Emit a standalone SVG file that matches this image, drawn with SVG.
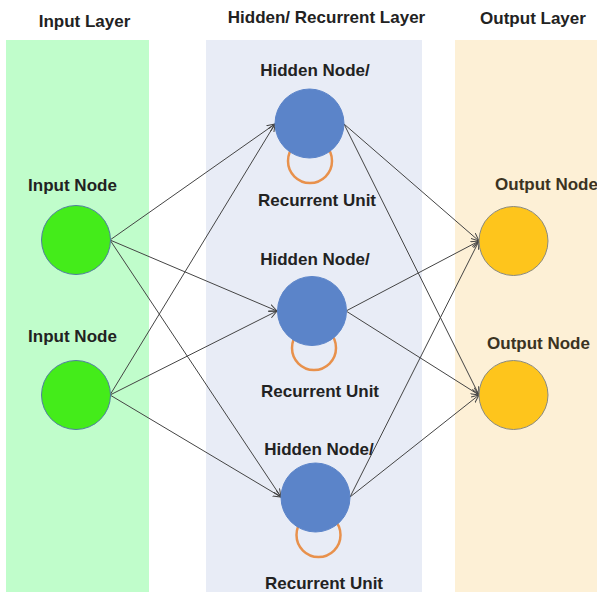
<svg xmlns="http://www.w3.org/2000/svg" width="597" height="592" viewBox="0 0 597 592">
<defs>
<style>
text{font-family:"Liberation Sans",Arial,sans-serif;font-weight:bold;font-size:17px;text-anchor:middle;fill:#222}
.edge{stroke:#444;stroke-width:1;fill:none;marker-end:url(#arr)}
.in{fill:#44ec1a;stroke:#4f7f9f;stroke-width:1}
.hid{fill:#5b84c9;stroke:#5b84c9;stroke-width:1}
.out{fill:#fec51c;stroke:#8a8a80;stroke-width:1}
.loop{fill:none;stroke:#e8914c;stroke-width:2.5}
</style>
<marker id="arr" markerWidth="10" markerHeight="8" refX="8" refY="4" orient="auto" markerUnits="userSpaceOnUse">
<path d="M0,0.5 L8,4 L0,7.5" fill="none" stroke="#444" stroke-width="1"/>
</marker>
</defs>
<rect width="597" height="592" fill="#fff"/>
<g id="panels">
<rect x="6" y="40" width="143" height="552" fill="#c0fdcb"/>
<rect x="206" y="40" width="216" height="552" fill="#e8ecf6"/>
<rect x="455" y="40" width="142" height="552" fill="#fdf0d6"/>
</g>
<g id="titles">
<text x="84.5" y="27">Input Layer</text>
<text x="326.5" y="23">Hidden/ Recurrent Layer</text>
<text x="533" y="24">Output Layer</text>
</g>
<g id="connectors">
<line class="edge" x1="110" y1="240" x2="275" y2="124"/>
<line class="edge" x1="110" y1="240" x2="277" y2="311"/>
<line class="edge" x1="110" y1="240" x2="281" y2="497"/>
<line class="edge" x1="110" y1="395" x2="275" y2="124"/>
<line class="edge" x1="110" y1="395" x2="277" y2="311"/>
<line class="edge" x1="110" y1="395" x2="281" y2="497"/>
<line class="edge" x1="344" y1="124" x2="479" y2="241"/>
<line class="edge" x1="344" y1="124" x2="479" y2="395"/>
<line class="edge" x1="346" y1="311" x2="479" y2="241"/>
<line class="edge" x1="346" y1="311" x2="479" y2="395"/>
<line class="edge" x1="350" y1="497" x2="479" y2="241"/>
<line class="edge" x1="350" y1="497" x2="479" y2="395"/>
</g>
<g id="input1">
<text x="72.5" y="191">Input Node</text>
<circle class="in" cx="76" cy="240" r="34.5"/>
</g>
<g id="input2">
<text x="72.5" y="342">Input Node</text>
<circle class="in" cx="76" cy="395" r="34.5"/>
</g>
<g id="hidden1">
<text x="315" y="76">Hidden Node/</text>
<circle class="loop" cx="310" cy="161" r="22"/>
<circle class="hid" cx="309.5" cy="123.5" r="34.5"/>
<text x="317" y="206">Recurrent Unit</text>
</g>
<g id="hidden2">
<text x="315" y="265">Hidden Node/</text>
<circle class="loop" cx="314" cy="348" r="22"/>
<circle class="hid" cx="312" cy="311" r="34.5"/>
<text x="320" y="397">Recurrent Unit</text>
</g>
<g id="hidden3">
<text x="319" y="455">Hidden Node/</text>
<circle class="loop" cx="318.5" cy="535" r="22"/>
<circle class="hid" cx="315.5" cy="497.5" r="34.5"/>
<text x="324" y="589">Recurrent Unit</text>
</g>
<g id="output1">
<text x="546.5" y="190" style="fill:#3b3322">Output Node</text>
<circle class="out" cx="513.5" cy="241" r="34.5"/>
</g>
<g id="output2">
<text x="538.5" y="349" style="fill:#3b3322">Output Node</text>
<circle class="out" cx="513.5" cy="395" r="34.5"/>
</g>
</svg>
